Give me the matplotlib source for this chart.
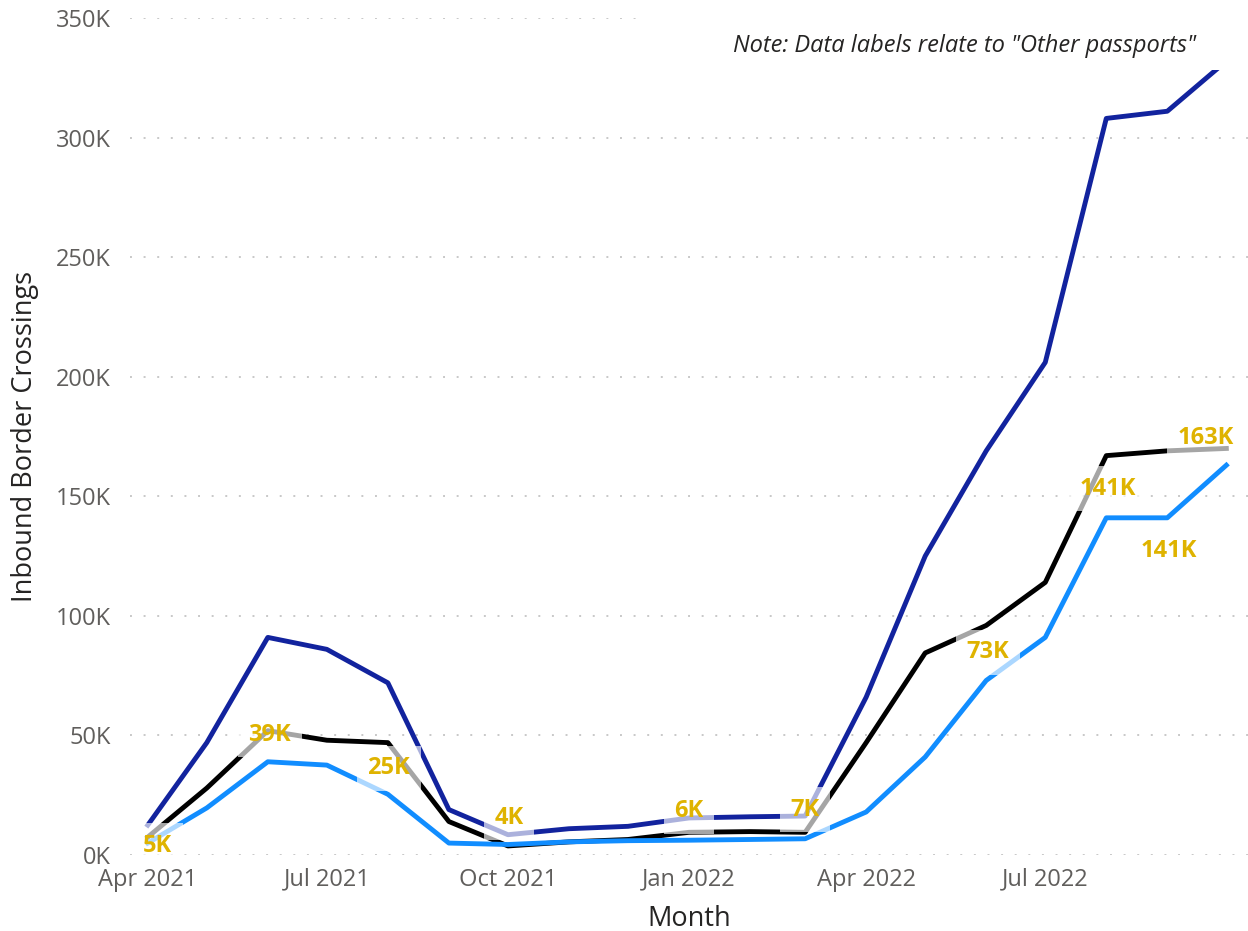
import matplotlib
matplotlib.use("Agg")
import matplotlib.pyplot as plt
import matplotlib.dates as mdates
from matplotlib.patches import Rectangle
import pandas as pd

plt.rcParams['font.family'] = ['Open Sans', 'DejaVu Sans']

months = pd.date_range("2021-04-01", periods=19, freq="MS")

# values in thousands
navy_vals = [12.5, 47, 91, 86, 72, 19, 8.5, 11, 12, 15.5, 16, 16.3,
             66, 125, 169, 206, 308, 311, 332]
black_vals = [7.5, 28, 52, 48, 47, 14, 3.8, 5.5, 6.5, 9.5, 9.8, 9.5,
              47, 84.5, 96, 114, 167, 169, 170]
other_vals = [5.0, 19.7, 39, 37.6, 25.4, 5.0, 4.4, 5.5, 6.0, 6.2, 6.5, 6.8,
              18, 41, 73, 91, 141, 141, 163]

label_idx = [0, 2, 4, 6, 9, 11, 14, 16, 17, 18]
label_offsets = [(10, -3), (2, 27), (1, 26), (1, 27), (0, 29), (0, 29),
                 (2, 28), (2, 29), (2, -33), (-21, 27)]

xtick_dates = pd.to_datetime(["2021-04-01", "2021-07-01", "2021-10-01",
                              "2022-01-01", "2022-04-01", "2022-07-01"])

NAVY = "#12239E"
BLACK = "#000000"
LBLUE = "#118DFF"
GOLD = "#DFB300"

fig = plt.figure(figsize=(12.48, 9.31), dpi=100)
ax = fig.add_axes([0.1042, 0.0816, 0.8958, 0.8991])

ax.plot(months, navy_vals, color=NAVY, lw=3.5, zorder=3)
ax.plot(months, black_vals, color=BLACK, lw=3.5, zorder=3)
ax.plot(months, other_vals, color=LBLUE, lw=3.5, zorder=4)

for i, (dx, dy) in zip(label_idx, label_offsets):
    v = other_vals[i]
    ax.annotate(f"{round(v)}K", (months[i], v), xytext=(dx, dy),
                textcoords="offset pixels", ha="center", va="center",
                fontsize=17, fontweight="bold", color=GOLD, zorder=6,
                bbox=dict(boxstyle="square,pad=0.45", fc="white", ec="none", alpha=0.65))

ax.set_ylim(0, 350)
ax.set_yticks([0, 50, 100, 150, 200, 250, 300, 350])
ax.set_yticklabels([f"{t}K" for t in [0, 50, 100, 150, 200, 250, 300, 350]])
ax.set_xlim(pd.Timestamp("2021-03-23"), pd.Timestamp("2022-10-12"))
ax.set_xticks(xtick_dates)
ax.xaxis.set_major_formatter(mdates.DateFormatter("%b %Y"))

ax.grid(axis="y", color="#C8C8C8", lw=1.4, linestyle=(0, (1, 6)))
ax.set_axisbelow(True)
for s in ax.spines.values():
    s.set_visible(False)
ax.tick_params(axis="both", length=0, labelsize=17, labelcolor="#605E5C")
ax.tick_params(axis="y", pad=14)
ax.tick_params(axis="x", pad=9)

ax.set_xlabel("Month", fontsize=19.5, color="#252423", labelpad=10)
ax.set_ylabel("Inbound Border Crossings", fontsize=19.5, color="#252423", labelpad=12)

# white box behind the note (covers the top of the lines like the reference)
fig.patches.append(Rectangle((0.51, 0.925), 0.49, 0.075, transform=fig.transFigure,
                             fc="white", ec="none", zorder=9))
fig.text(0.9585, 0.951, 'Note: Data labels relate to "Other passports"', ha="right", va="center",
         fontsize=17, style="italic", color="#252423", zorder=10)

fig.savefig("out.png", dpi=100)
